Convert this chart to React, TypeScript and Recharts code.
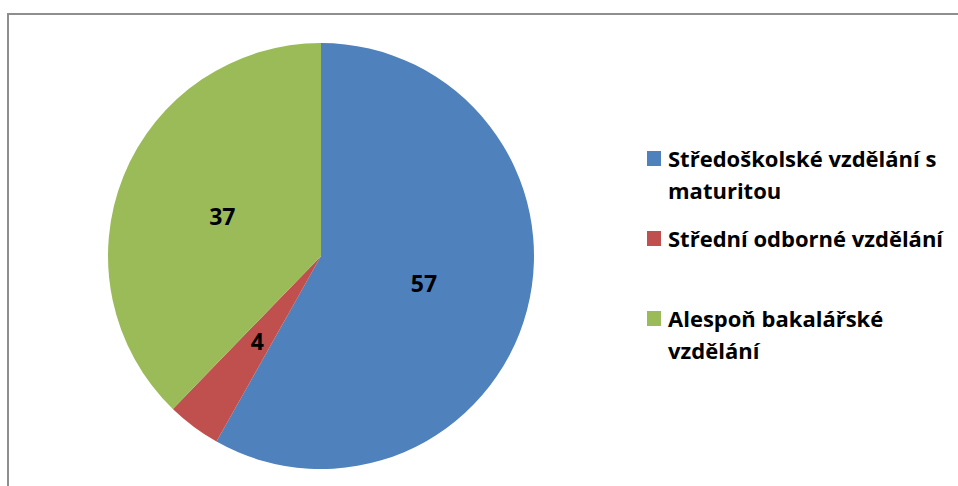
import { PieChart, Pie, Cell, Legend } from 'recharts'

const categories = [
  'Středoškolské vzdělání s maturitou',
  'Střední odborné vzdělání',
  'Alespoň bakalářské vzdělání',
]
const values = [57, 4, 37]
const colors = ['#4F81BD', '#C0504D', '#9BBB59']

const data = categories.map((name, i) => ({ name, value: values[i] }))

const RAD = Math.PI / 180

// labels sit halfway between the centre and the rim, like Excel does it
const renderLabel = (props: any) => {
  const { cx, cy, midAngle, outerRadius, value } = props
  const r = outerRadius * 0.5
  const x = cx + r * Math.cos(-midAngle * RAD)
  const y = cy + r * Math.sin(-midAngle * RAD)
  return (
    <text
      x={x}
      y={y}
      textAnchor="middle"
      dominantBaseline="central"
      fill="#000"
      style={{ fontFamily: 'Open Sans', fontWeight: 700, fontSize: 23 }}
    >
      {value}
    </text>
  )
}

// legend drawn in data order (Recharts would give it reversed here)
const renderLegend = () => {
  const tops = [0, 80, 160]
  return (
    <div style={{ position: 'relative', width: 310, height: 240 }}>
      {categories.map((name, i) => (
        <div
          key={`leg-${i}`}
          style={{ position: 'absolute', left: 0, top: tops[i], display: 'flex', alignItems: 'flex-start' }}
        >
          <div style={{ width: 14, height: 15, background: colors[i], marginTop: 9, marginRight: 7, flexShrink: 0 }} />
          <div
            style={{
              width: 290,
              fontFamily: 'Open Sans',
              fontWeight: 700,
              fontSize: 22,
              lineHeight: '32px',
              color: '#000',
              whiteSpace: 'normal',
            }}
          >
            {name}
          </div>
        </div>
      ))}
    </div>
  )
}

export default function App() {
  return (
    <div style={{ position: 'absolute', left: 0, top: 0, width: 958, height: 486, background: '#fff', overflow: 'hidden' }}>
      <div
        style={{
          position: 'absolute',
          left: 7,
          top: 13,
          width: 1000,
          height: 600,
          borderLeft: '2px solid #8e8e8e',
          borderTop: '2px solid #8e8e8e',
        }}
      />
      <div style={{ position: 'absolute', left: 0, top: 0 }}>
        <PieChart width={958} height={486} margin={{ top: 0, right: 0, bottom: 0, left: 0 }}>
          <Pie
            data={data}
            dataKey="value"
            nameKey="name"
            cx={321}
            cy={256}
            outerRadius={213}
            startAngle={90}
            endAngle={-270}
            stroke="none"
            label={renderLabel}
            labelLine={false}
            isAnimationActive={false}
          >
            {data.map((d, i) => (
              <Cell key={`cell-${i}`} fill={colors[i]} />
            ))}
          </Pie>
          <Legend
            content={renderLegend}
            layout="vertical"
            wrapperStyle={{ left: 647, top: 142, width: 310 }}
          />
        </PieChart>
      </div>
    </div>
  )
}
